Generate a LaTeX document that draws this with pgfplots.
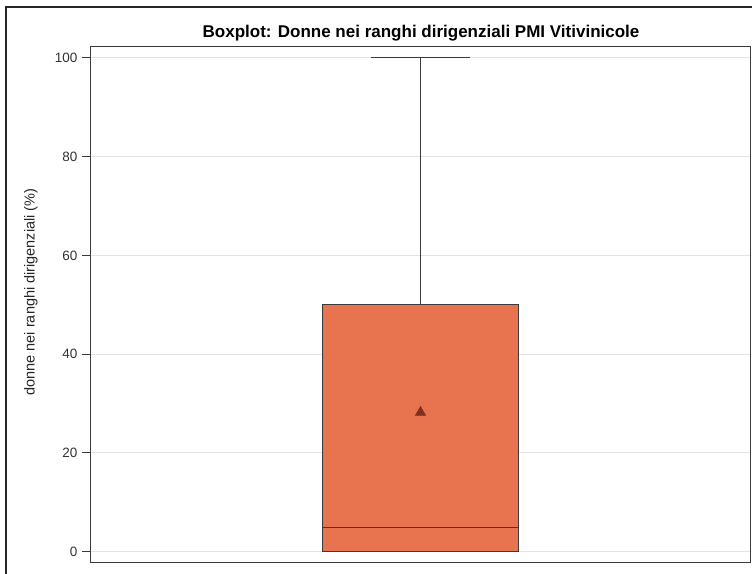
\documentclass[border=0pt]{standalone}
\usepackage{fontspec}
\setmainfont{Liberation Sans}
\usepackage{pgfplots}
\pgfplotsset{compat=1.18}
\usepgfplotslibrary{statistics}

\definecolor{boxfill}{HTML}{E8734F}
\definecolor{meanred}{HTML}{7F2E1F}
\definecolor{edge}{HTML}{3A3A3A}
\definecolor{gridc}{HTML}{E3E3E3}

\begin{document}
\begin{tikzpicture}
\useasboundingbox (-91pt,-11pt) rectangle (661pt,562pt);
\draw[line width=1.5pt, color=black!85] (-85pt,-30pt) rectangle (690pt,555pt);
\begin{axis}[
    at={(0pt,0pt)}, anchor=south west,
    scale only axis,
    width=659pt, height=515pt,
    xmin=0, xmax=100,
    ymin=-2.1, ymax=102.2,
    xtick=\empty,
    ytick={0,20,40,60,80,100},
    ytick pos=left,
    ymajorgrids=true,
    grid style={gridc, line width=0.8pt},
    axis line style={edge, line width=1pt},
    tick style={edge, line width=0.8pt},
    tick align=outside,
    major tick length=9pt,
    yticklabel style={font=\fontsize{13.5}{15}\selectfont, text=black!80, xshift=-1pt},
    /pgf/number format/assume math mode=true,
    clip=false,
]
\addplot[
    boxplot prepared={
        draw direction=y,
        draw position=50,
        box extend=29.7,
        whisker extend=14.9,
        lower whisker=0,
        lower quartile=0,
        median=5,
        upper quartile=50,
        upper whisker=100,
    },
    draw=edge, line width=0.8pt, fill=boxfill,
    boxplot/every median/.style={draw=meanred!85!black, line width=0.8pt},
] coordinates {};

% media
\addplot[only marks, mark=triangle*, mark size=6pt, color=meanred]
    coordinates {(50,28.2)};
\end{axis}
\node[font=\bfseries\fontsize{17}{20}\selectfont] at (330pt,529pt) {Boxplot: Donne nei ranghi dirigenziali PMI Vitivinicole};
\node[rotate=90, font=\fontsize{14.5}{17}\selectfont, text=black!85] at (-60pt,270pt) {donne nei ranghi dirigenziali (\%)};
\end{tikzpicture}
\end{document}
